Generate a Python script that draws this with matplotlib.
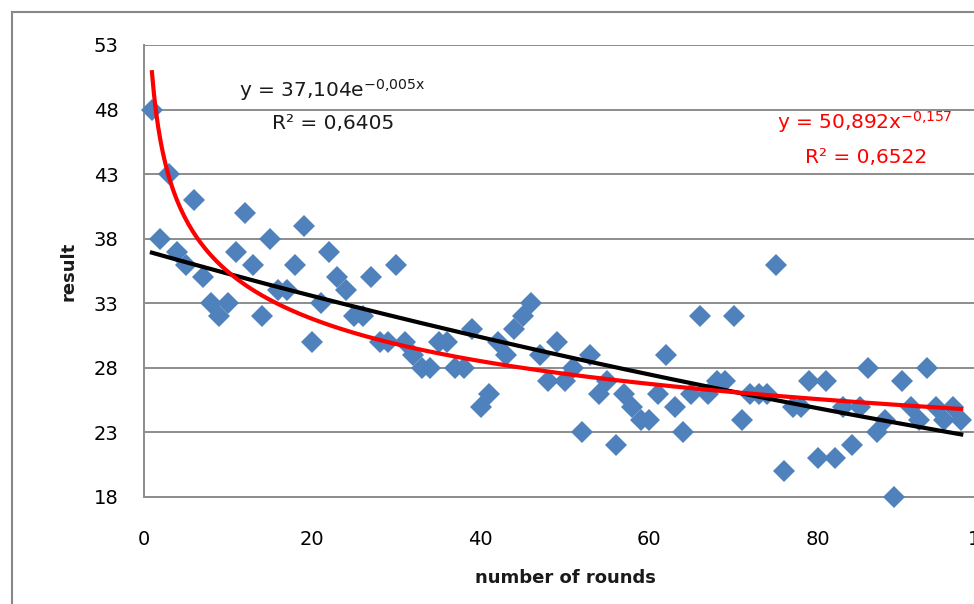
import numpy as np
import matplotlib
matplotlib.use("Agg")
import matplotlib.pyplot as plt
from matplotlib.lines import Line2D

plt.rcParams["font.family"] = ["DejaVu Sans"]

# ===== data =====
rounds = list(range(1, 98))
result = [
    48, 38, 43, 37, 36, 41, 35, 33, 32, 33,   # 1-10
    37, 40, 36, 32, 38, 34, 34, 36, 39, 30,   # 11-20
    33, 37, 35, 34, 32, 32, 35, 30, 30, 36,   # 21-30
    30, 29, 28, 28, 30, 30, 28, 28, 31, 25,   # 31-40
    26, 30, 29, 31, 32, 33, 29, 27, 30, 27,   # 41-50
    28, 23, 29, 26, 27, 22, 26, 25, 24, 24,   # 51-60
    26, 29, 25, 23, 26, 32, 26, 27, 27, 32,   # 61-70
    24, 26, 26, 26, 36, 20, 25, 25, 27, 21,   # 71-80
    27, 21, 25, 22, 25, 28, 23, 24, 18, 27,   # 81-90
    25, 24, 28, 25, 24, 25, 24,               # 91-97
]

# trend line coefficients as printed on the chart
exp_a, exp_b, exp_r2 = 37.104, -0.005, "0,6405"
pow_a, pow_b, pow_r2 = 50.892, -0.157, "0,6522"

# ===== figure =====
W, H = 974, 604
fig = plt.figure(figsize=(W / 100, H / 100), dpi=100)
ax = fig.add_axes([143.5 / W, (H - 497) / H, 843 / W, 452 / H])

grid_col = "#8c8c8c"
ax.set_xlim(0, 100)
ax.set_ylim(18, 53)
ax.set_xticks([0, 20, 40, 60, 80, 100])
ax.set_yticks(np.arange(18, 54, 5))
ax.yaxis.grid(True, color=grid_col, linewidth=1.4)
ax.set_axisbelow(True)
for s in ["top", "right"]:
    ax.spines[s].set_visible(False)
for s in ["left", "bottom"]:
    ax.spines[s].set_color(grid_col)
    ax.spines[s].set_linewidth(1.4)
ax.tick_params(axis="both", length=0, labelsize=14, colors="#000000")
ax.tick_params(axis="y", pad=18)
ax.tick_params(axis="x", pad=24)

ax.plot(rounds, result, linestyle="none", marker="D", markersize=11,
        color="#4f81bd", markeredgewidth=0, zorder=3, clip_on=False)

xs = np.linspace(rounds[0], rounds[-1], 400)
ax.plot(xs, exp_a * np.exp(exp_b * xs), color="black", linewidth=3, zorder=4)
ax.plot(xs, pow_a * xs ** pow_b, color="red", linewidth=3, zorder=4)

ax.text(0.113, 0.90, "y = 37,104e$^{\\mathregular{-0{,}005x}}$", transform=ax.transAxes,
        fontsize=14.5, color="#1a1a1a", va="center", ha="left")
ax.text(0.153, 0.826, "R² = " + exp_r2, transform=ax.transAxes,
        fontsize=14.5, color="#1a1a1a", va="center", ha="left")
ax.text(0.752, 0.829, "y = 50,892x$^{\\mathregular{-0{,}157}}$", transform=ax.transAxes,
        fontsize=14.5, color="red", va="center", ha="left")
ax.text(0.785, 0.752, "R² = " + pow_r2, transform=ax.transAxes,
        fontsize=14.5, color="red", va="center", ha="left")

ax.set_xlabel("number of rounds", fontsize=13, fontweight="bold", color="#1a1a1a")
ax.set_ylabel("result", fontsize=13, fontweight="bold", color="#1a1a1a")
ax.xaxis.set_label_coords(0.5, -0.16)
ax.yaxis.set_label_coords(-0.078, 0.5)

# outer chart border (cut off on the right and bottom)
fig.add_artist(Line2D([12 / W, 12 / W], [0, 1 - 12 / H], transform=fig.transFigure,
                      color="#888888", linewidth=1.5))
fig.add_artist(Line2D([12 / W, 1], [1 - 12 / H, 1 - 12 / H], transform=fig.transFigure,
                      color="#888888", linewidth=1.5))

fig.savefig("out.png", dpi=100)
